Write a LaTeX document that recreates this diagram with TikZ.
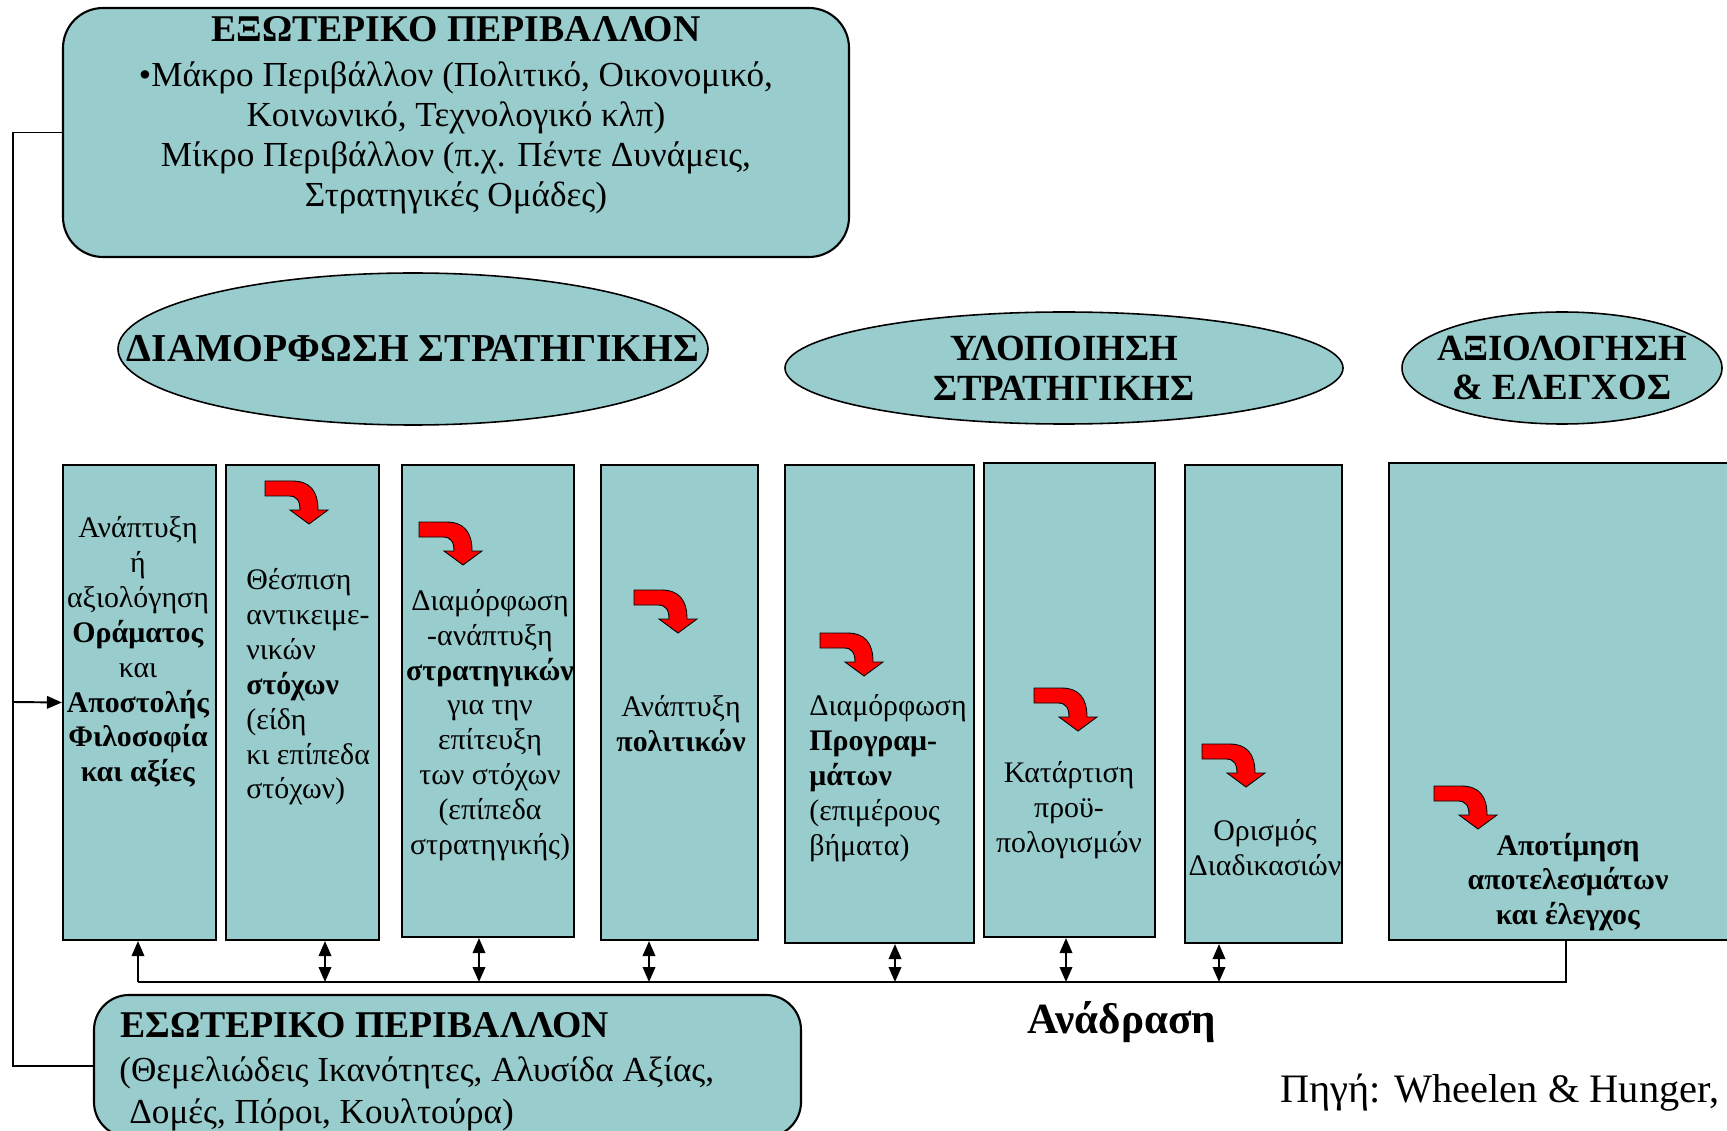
\documentclass[tikz,border=0pt]{standalone}
\usepackage{fontspec}
\setmainfont{Liberation Serif}
\usetikzlibrary{shapes.geometric,arrows.meta,fit}
\definecolor{tealfill}{RGB}{153,204,204}
\definecolor{arrred}{RGB}{255,0,0}
\begin{document}
\begin{tikzpicture}[x=0.02cm,y=-0.02cm,
  box/.style={draw=black,line width=1.2pt,fill=tealfill,inner sep=0pt},
  rbox/.style={box,rounded corners=0.8cm},
  ibox/.style={box,rounded corners=0.7cm},
  ellbox/.style={ellipse,draw=black,line width=0.9pt,fill=tealfill,inner sep=0pt},
  elltxt/.style={inner sep=0pt,align=center,font=\fontsize{21pt}{22.7pt}\selectfont\bfseries},
  rtxt/.style={inner sep=0pt,align=center,font=\fontsize{17pt}{19.85pt}\selectfont},
  ltxt/.style={rtxt,align=left,anchor=west},
  conn/.style={draw=black,line width=1.1pt},
  uparr/.style={-{Triangle[length=3mm,width=2.5mm]}},
  dblarr/.style={{Triangle[length=3mm,width=2.5mm]}-{Triangle[length=3mm,width=2.5mm]}},
  curvarrow/.pic={\draw[fill=arrred,draw=black,line width=0.5pt]
     (0,0) -- (27,0) .. controls (45,0) and (53,10) .. (53,29) -- (63,29) -- (44,43)
     -- (25,29) -- (35,29) .. controls (35,20) and (32,15) .. (24,15) -- (0,15) -- cycle;}
]
\useasboundingbox (0,0) rectangle (1727,1131);
\clip (0,0) rectangle (1727,1131);

% external environment
\node[rbox, fit={(63,8) (849,257)}] (ext) {};
\node[inner sep=0pt, align=center, font=\fontsize{20pt}{22.7pt}\selectfont] (extt) at (456,115)
  {{\fontsize{21.5pt}{22.7pt}\selectfont\bfseries ΕΞΩΤΕΡΙΚΟ ΠΕΡΙΒΑΛΛΟΝ}\\[3pt]
   •Μάκρο Περιβάλλον (Πολιτικό, Οικονομικό,\\
   Κοινωνικό, Τεχνολογικό κλπ)\\
   Μίκρο Περιβάλλον (π.χ. Πέντε Δυνάμεις,\\
   Στρατηγικές Ομάδες)};

% ellipses
\node[ellbox, minimum width=590*0.02cm, minimum height=152*0.02cm] (e1) at (413,349) {};
\node[elltxt, font=\fontsize{22.5pt}{24pt}\selectfont\bfseries] (e1t) at (413,349) {ΔΙΑΜΟΡΦΩΣΗ ΣΤΡΑΤΗΓΙΚΗΣ};
\node[ellbox, minimum width=558*0.02cm, minimum height=112*0.02cm] (e2) at (1064,368) {};
\node[elltxt] (e2t) at (1064,368) {ΥΛΟΠΟΙΗΣΗ\\ ΣΤΡΑΤΗΓΙΚΗΣ};
\node[ellbox, minimum width=320*0.02cm, minimum height=112*0.02cm] (e3) at (1562,368) {};
\node[elltxt] (e3t) at (1562,368) {ΑΞΙΟΛΟΓΗΣΗ\\ \& ΕΛΕΓΧΟΣ};

% columns
\node[box, fit={(63,465) (216,940)}] (r1) {};
\node[box, fit={(226,465) (379,940)}] (r2) {};
\node[box, fit={(402,465) (574,937)}] (r3) {};
\node[box, fit={(601,465) (758,940)}] (r4) {};
\node[box, fit={(785,465) (974,943)}] (r5) {};
\node[box, fit={(984,463) (1155,937)}] (r6) {};
\node[box, fit={(1185,465) (1342,943)}] (r7) {};
\node[box, fit={(1389,463) (1750,940)}] (r8) {};

% red curved arrows
\pic at (265,481) {curvarrow};
\pic at (419,522) {curvarrow};
\pic at (634,590) {curvarrow};
\pic at (820,633) {curvarrow};
\pic at (1034,688) {curvarrow};
\pic at (1202,744) {curvarrow};
\pic at (1434,786) {curvarrow};

% column texts
\node[rtxt] (t1) at (138,652) {Ανάπτυξη\\ ή\\ αξιολόγηση\\ \textbf{Οράματος}\\ και\\ \textbf{Αποστολής}\\ \textbf{Φιλοσοφία}\\ \textbf{και αξίες}};
\node[ltxt] (t2) at (246,687) {Θέσπιση\\ αντικειμε-\\ νικών\\ \textbf{στόχων}\\ (είδη\\ κι επίπεδα\\ στόχων)};
\node[rtxt] (t3) at (490,725) {Διαμόρφωση\\ -ανάπτυξη\\ \textbf{στρατηγικών}\\ για την\\ επίτευξη\\ των στόχων\\ (επίπεδα\\ στρατηγικής)};
\node[rtxt] (t4) at (681,724) {Ανάπτυξη\\ \textbf{πολιτικών}};
\node[ltxt] (t5) at (809,778) {Διαμόρφωση\\ \textbf{Προγραμ-}\\ \textbf{μάτων}\\ (επιμέρους\\ βήματα)};
\node[rtxt] (t6) at (1069,810) {Κατάρτιση\\ προϋ-\\ πολογισμών};
\node[rtxt] (t7) at (1265,848) {Ορισμός\\ Διαδικασιών};
\node[rtxt] (t8) at (1568,882) {\textbf{Αποτίμηση}\\ \textbf{αποτελεσμάτων}\\ \textbf{και έλεγχος}};

% internal environment
\node[ibox, fit={(94,995) (801,1137)}] (int) {};
\node[anchor=west, inner sep=0pt, font=\fontsize{21.5pt}{24pt}\selectfont\bfseries] (int1) at (120,1025) {ΕΣΩΤΕΡΙΚΟ ΠΕΡΙΒΑΛΛΟΝ};
\node[anchor=west, inner sep=0pt, font=\fontsize{20pt}{24pt}\selectfont] (int2) at (119,1073) {(Θεμελιώδεις Ικανότητες, Αλυσίδα Αξίας,};
\node[anchor=west, inner sep=0pt, font=\fontsize{20pt}{24pt}\selectfont] (int3) at (129,1115) {Δομές, Πόροι, Κουλτούρα)};

% labels
\node[font=\fontsize{24.5pt}{28pt}\selectfont\bfseries] (fbt) at (1122,1022) {Ανάδραση};
\node[anchor=west, inner sep=0pt, font=\fontsize{23pt}{26pt}\selectfont] (src) at (1280,1093) {Πηγή: Wheelen \& Hunger,};

% left loop
\coordinate (lc2) at (13,1066);
\coordinate (lc3) at (13,702);
\draw[conn] (ext.west) -| (lc2) -- (int.west);
\draw[conn,uparr] (lc3) -- (r1.west);

% feedback
\coordinate (fbL) at (138,982);
\coordinate (fbR) at (1566,982);
\draw[conn] (r8.south -| fbR) -- (fbR) -- (fbL);
\draw[conn,uparr] (fbL) -- (fbL |- r1.south);
\coordinate (f2) at (325,982);
\coordinate (f3) at (479,982);
\coordinate (f4) at (649,982);
\coordinate (f5) at (895,982);
\coordinate (f6) at (1066,982);
\coordinate (f7) at (1219,982);
\draw[conn,dblarr] (f2 |- r2.south) -- (f2);
\draw[conn,dblarr] (f3 |- r3.south) -- (f3);
\draw[conn,dblarr] (f4 |- r4.south) -- (f4);
\draw[conn,dblarr] (f5 |- r5.south) -- (f5);
\draw[conn,dblarr] (f6 |- r6.south) -- (f6);
\draw[conn,dblarr] (f7 |- r7.south) -- (f7);
\end{tikzpicture}
\end{document}
